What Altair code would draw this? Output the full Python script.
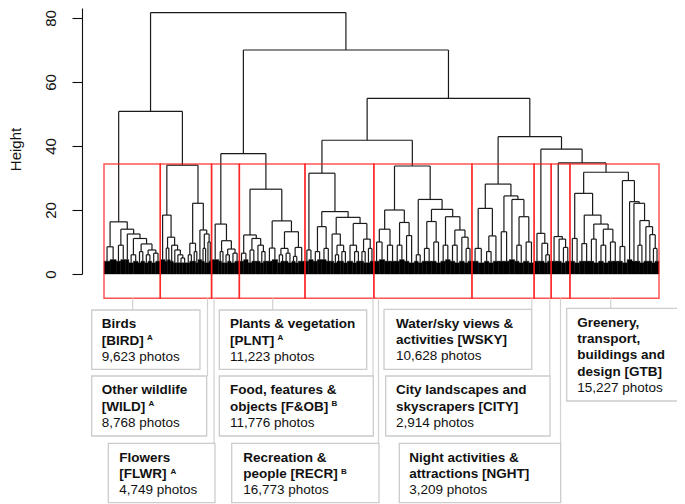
import altair as alt
import pandas as pd

# ---------------- data ----------------
cluster_codes = ["BIRD", "WILD", "FLWR", "PLNT", "F&OB", "RECR", "WSKY", "CITY", "NGHT", "GTB"]
cluster_titles = [
    ["Birds", "[BIRD]"],
    ["Other wildlife", "[WILD]"],
    ["Flowers", "[FLWR]"],
    ["Plants & vegetation", "[PLNT]"],
    ["Food, features &", "objects [F&OB]"],
    ["Recreation &", "people [RECR]"],
    ["Water/sky views &", "activities [WSKY]"],
    ["City landscapes and", "skyscrapers [CITY]"],
    ["Night activities &", "attractions [NGHT]"],
    ["Greenery,", "transport,", "buildings and", "design [GTB]"],
]
cluster_marks = ["A", "A", "A", "A", "B", "B", "", "", "", ""]
photo_counts = [9623, 8768, 4749, 11223, 11776, 16773, 10628, 2914, 3209, 15227]

cut_height = 34.4
y_ticks = [0, 20, 40, 60, 80]

# merges above the cut: [height, left, right]
upper_tree = [81.7, [50.8, "BIRD", "WILD"],
              [70.0, [37.6, "FLWR", "PLNT"],
               [54.9, [41.8, "F&OB", "RECR"],
                [42.9, "WSKY", [39.0, "CITY", [34.7, "NGHT", "GTB"]]]]]]

# merges inside each cluster: [height, left, right]; (relative weight, dense height) = leaf group
tree_bird = [16.3, [8.5, (6, 4), (6, 4.5)],
             [14.0, [9.0, (4.5, 4), (5, 4.5)],
              [12.5, (3, 4.5),
               [11.1, [6.0, (4.5, 3.5), (4.5, 4)],
                [9.4, [7.0, (3, 3.5), (3.5, 4)],
                 [7.5, [6.0, (3.5, 3.5), (3.5, 4)], [6.5, (4, 3.5), (4.5, 4)]]]]]]]
tree_wild = [34.0,
             [18.4, (4.5, 4.5),
              [11.5, [8.1, (2.5, 4), (2.5, 4.5)],
               [9.0, (3, 4), [7.5, (3, 3.5), [6.0, (3, 3.5), [5.0, (3, 3.5), (4, 3.5)]]]]]],
             [22.1, [9.6, [6.0, (3, 3.5), (3, 4)], [7.0, (2.5, 4), (2.5, 3.5)]],
              [13.75, (3.5, 4.5), [12.5, [8.0, (2.5, 4), (2.5, 3.5)], [10.0, (2, 3.5), (2.5, 4)]]]]]
tree_flwr = [15.6, (6.5, 4.5),
             [10.4, [7.0, (2.5, 4), (2.5, 3.5)],
              [7.8, [6.0, (3, 3.5), (3, 4)], [6.5, (3.5, 3.5), (4, 4)]]]]
tree_plnt = [26.5,
             [12.2, [6.5, (4, 4), (4, 4.5)],
              [11.1, [7.5, (3.5, 3.5), (3.5, 4)], [9.0, (4, 4), [7.0, (3, 3.5), (3, 4)]]]],
             [16.6, [8.1, (5, 4), (5, 4.5)],
              [13.2, [8.0, [6.0, (3, 3.5), (3, 4)], [6.5, (3.5, 4), (3.5, 3.5)]],
               [8.3, [5.5, (3, 4), (3, 3.5)], (6, 4)]]]]
tree_fob = [31.5, [7.5, (3.5, 4), (4, 4.5)],
            [19.5, [14.8, [7.0, (4, 4), (4, 4.5)], [8.0, (4, 4.5), (4, 4)]],
             [17.7, [12.5, (3, 4), [9.0, [6.0, (3, 3.5), (3, 4)], [7.0, (3, 4), (3.5, 3.5)]]],
              [15.8, [9.0, (5, 4), [7.0, (3.5, 3.5), (3.5, 4)]],
               [10.9, [7.0, (3, 4), (3, 3.5)], [8.0, (3, 3.5), (3.5, 4)]]]]]]
tree_recr = [33.75,
             [20.0, [14.0, [10.0, (3.5, 4), (3.5, 4.5)], [9.0, (3.5, 4), (3, 4)]],
              [16.1, [9.0, (3, 4), (3, 4.5)], [12.0, (3, 4), (3.5, 3.5)]]],
             [23.3, [6.0, (2.5, 4), (2.5, 3.5)],
              [20.2, [16.4, [8.0, (3, 4), (3, 4)], [10.0, (3, 4), (3, 3.5)]],
               [17.9, [9.0, (3, 4), (3, 4.5)],
                [13.75, [9.0, (3, 4), (3, 3.5)], [11.5, (3, 4), [8.0, (2.5, 3.5), (2.5, 4)]]]]]]]
tree_wsky = [28.1,
             [20.5, [8.0, (3.5, 4), (3.5, 3.5)], [11.9, [7.0, (2.5, 4), (2.5, 3.5)], (3, 4)]],
             [24.4, [13.2, (3, 4), (3, 4)],
              [23.3, (3, 4.5), [17.9, [9.0, (2.5, 4), (2.5, 3.5)], [10.0, (3, 4), (3, 3.5)]]]]]
tree_city = [12.7, (4, 4), [9.6, (3, 4), [6.0, (2.5, 3.5), (2.5, 4)]]]
tree_nght = [11.7, (4, 4), [10.9, (3, 4), [8.3, (3, 3.5), (3, 4)]]]
tree_gtb = [31.8,
            [25.2, [11.1, (3, 4), (3, 3.5)],
             [18.4, [9.5, (3, 4), (3, 4)],
              [15.6, [10.9, (3, 4), (3, 3.5)],
               [14.0, [9.0, (3, 4), (3, 3.5)], [10.0, (3, 4), (3, 4)]]]]],
            [29.2, [8.6, (3, 4), (3, 3.5)],
             [22.6, (3, 4.5),
              [22.1, (2.5, 4),
               [16.7, [9.0, (2.5, 4), (2.5, 3.5)],
                [14.8, (2.5, 4), [12.3, (2.5, 4), [8.0, (2, 3.5), (2.5, 4)]]]]]]]]
cluster_trees = [tree_bird, tree_wild, tree_flwr, tree_plnt, tree_fob,
                 tree_recr, tree_wsky, tree_city, tree_nght, tree_gtb]

# ---------------- layout (page pixels) ----------------
PLOT_LEFT, PLOT_TOP = 82, 8
PLOT_W, PLOT_H = 595, 266
ZERO_Y = 274.0        # page y of height 0
PX_PER_H = 3.2
X0_PAGE, X1_PAGE = 104.0, 659.0
RECT_BOTTOM_PAGE = 298.3

# label boxes: left, top, right, bottom, text x, connector x
label_layout = {
    "BIRD": (91.7, 310.0, 200.0, 369.3, 101.7, 132.7),
    "WILD": (91.7, 376.0, 206.7, 436.0, 101.7, 207.5),
    "FLWR": (108.3, 443.3, 215.0, 502.7, 119.3, 214.0),
    "PLNT": (219.3, 310.0, 366.7, 369.3, 230.0, 272.7),
    "F&OB": (219.3, 376.0, 373.3, 436.0, 230.0, 373.0),
    "RECR": (231.7, 443.3, 379.0, 502.7, 243.3, 378.5),
    "WSKY": (384.0, 309.3, 531.7, 369.3, 396.0, 531.8),
    "CITY": (385.7, 376.0, 550.0, 436.0, 396.0, 549.8),
    "NGHT": (399.3, 443.3, 560.7, 502.7, 409.3, 560.5),
    "GTB": (566.7, 308.3, 690.0, 401.0, 577.3, 610.7),
}
FONT = "Liberation Sans"
FS = 13.5
LINE1, LINE_STEP = 18.3, 16.4

total = sum(photo_counts)
k = (X1_PAGE - X0_PAGE) / total
ymax = (ZERO_Y - PLOT_TOP) / PX_PER_H
xmin = (PLOT_LEFT - X0_PAGE) / k
xmax = (PLOT_LEFT + PLOT_W - X0_PAGE) / k


def X(px):
    return (px - X0_PAGE) / k


def Y(py):
    return (ZERO_Y - py) / PX_PER_H


# ---------------- dendrogram geometry ----------------
segs, leaves, boxes = [], [], []
count_of = dict(zip(cluster_codes, photo_counts))
tree_of = dict(zip(cluster_codes, cluster_trees))


def weight(node):
    if isinstance(node, tuple):
        return node[0]
    return weight(node[1]) + weight(node[2])


def place(node, x0, scale):
    if isinstance(node, str):
        t = tree_of[node]
        s = count_of[node] / weight(t)
        res = place(t, x0, s)
        boxes.append({"x": x0, "x2": res[2], "y": Y(RECT_BOTTOM_PAGE), "y2": cut_height})
        return res
    if isinstance(node, tuple):
        w = node[0] * scale
        leaves.append({"x": x0, "x2": x0 + w, "y": 0.0, "y2": node[1]})
        return x0 + w / 2, node[1], x0 + w
    h, left, right = node
    xl, hl, xe = place(left, x0, scale)
    xr, hr, xe = place(right, xe, scale)
    segs.append({"x": xl, "x2": xr, "y": h, "y2": h})
    segs.append({"x": xl, "x2": xl, "y": hl, "y2": h})
    segs.append({"x": xr, "x2": xr, "y": hr, "y2": h})
    return (xl + xr) / 2, h, xe


place(upper_tree, 0.0, 1.0)

# ---------------- label geometry ----------------
AB = {' ': 278, '[': 333, ']': 333, '&': 722, '/': 278, ',': 278,
      'A': 722, 'B': 722, 'C': 722, 'D': 722, 'E': 667, 'F': 611, 'G': 778, 'H': 722,
      'I': 278, 'K': 722, 'L': 611, 'N': 722, 'O': 778, 'P': 667, 'R': 722, 'S': 667,
      'T': 611, 'W': 944, 'Y': 667, 'a': 556, 'b': 611, 'c': 556, 'd': 611, 'e': 556,
      'f': 333, 'g': 611, 'h': 611, 'i': 278, 'j': 278, 'k': 556, 'l': 278, 'm': 889,
      'n': 611, 'o': 611, 'p': 611, 'r': 389, 's': 556, 't': 333, 'u': 611, 'v': 556,
      'w': 778, 'y': 556}


def bold_width(s):
    return sum(AB.get(c, 600) for c in s) * FS / 1000


label_boxes, connectors, bold_rows, plain_rows, sup_rows = [], [], [], [], []
for code, titles, mark, cnt in zip(cluster_codes, cluster_titles, cluster_marks, photo_counts):
    l, t, r, b, tx, cx = label_layout[code]
    label_boxes.append({"x": X(l), "x2": X(r), "y": Y(t), "y2": Y(b)})
    connectors.append({"x": X(cx), "x2": X(cx), "y": Y(RECT_BOTTOM_PAGE), "y2": Y(t)})
    for i, line in enumerate(titles):
        bold_rows.append({"x": X(tx), "y": Y(t + LINE1 + i * LINE_STEP), "text": line})
    plain_rows.append({"x": X(tx), "y": Y(t + LINE1 + len(titles) * LINE_STEP),
                       "text": f"{cnt:,} photos"})
    if mark:
        last = titles[-1]
        base = t + LINE1 + (len(titles) - 1) * LINE_STEP
        sup_rows.append({"x": X(tx + bold_width(last) + 3.2), "y": Y(base - 4.5), "text": mark})

# ---------------- chart ----------------
xs = alt.Scale(domain=[xmin, xmax], nice=False, zero=False)
ys = alt.Scale(domain=[0, ymax], nice=False, zero=False)
y_axis = alt.Axis(values=y_ticks, tickSize=10, tickWidth=1.1, tickColor="#111",
                  domainColor="#111", domainWidth=1.1, grid=False,
                  labelAngle=270, labelAlign="center", labelBaseline="alphabetic",
                  labelPadding=17, labelFontSize=15, labelFont=FONT, labelColor="#111",
                  labelOverlap=False,
                  title="Height", titleAngle=270, titleFontSize=15, titleFont=FONT,
                  titleFontWeight="normal", titleColor="#111", titleX=-62, titleY=141,
                  titleAlign="center", titleBaseline="alphabetic")


def enc(two=True):
    e = dict(x=alt.X("x:Q", scale=xs, axis=None),
             y=alt.Y("y:Q", scale=ys, axis=y_axis))
    if two:
        e["x2"] = "x2:Q"
        e["y2"] = "y2:Q"
    return e


seg_layer = alt.Chart(pd.DataFrame(segs)).mark_rule(
    color="#1a1a1a", strokeWidth=1.2).encode(**enc())
leaf_layer = alt.Chart(pd.DataFrame(leaves)).mark_rect(
    color="#000", stroke="#000", strokeWidth=0.4).encode(**enc())
red_layer = alt.Chart(pd.DataFrame(boxes)).mark_rect(
    fillOpacity=0, stroke="#ff1a1a", strokeWidth=1.5, strokeOpacity=0.75).encode(**enc())
conn_layer = alt.Chart(pd.DataFrame(connectors)).mark_rule(
    color="#d2d2d2", strokeWidth=1.2).encode(**enc())
lbox_layer = alt.Chart(pd.DataFrame(label_boxes)).mark_rect(
    fill="white", stroke="#cccccc", strokeWidth=1.3).encode(**enc())
bold_layer = alt.Chart(pd.DataFrame(bold_rows)).mark_text(
    align="left", baseline="alphabetic", font=FONT, fontSize=FS, fontWeight="bold",
    color="#111").encode(text="text:N", **enc(two=False))
plain_layer = alt.Chart(pd.DataFrame(plain_rows)).mark_text(
    align="left", baseline="alphabetic", font=FONT, fontSize=FS,
    color="#111").encode(text="text:N", **enc(two=False))
sup_layer = alt.Chart(pd.DataFrame(sup_rows)).mark_text(
    align="left", baseline="alphabetic", font=FONT, fontSize=8, fontWeight="bold",
    color="#111").encode(text="text:N", **enc(two=False))

chart = alt.layer(seg_layer, leaf_layer, red_layer, conn_layer, lbox_layer,
                  bold_layer, plain_layer, sup_layer).properties(
    width=PLOT_W, height=PLOT_H,
    autosize=alt.AutoSizeParams(type="none"),
    padding={"left": 74, "top": 0, "right": 0, "bottom": 230},
).configure_view(stroke=None)

chart.save("out.html", embed_options={"renderer": "svg", "actions": False})
